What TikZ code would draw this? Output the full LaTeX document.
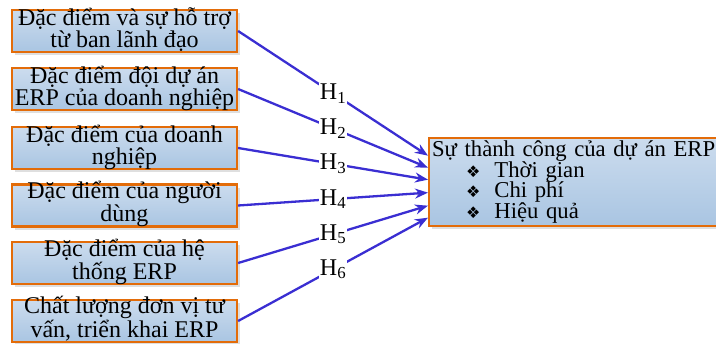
\documentclass[tikz,border=0pt]{standalone}
\usepackage{fontspec}
\setmainfont{Liberation Serif}
\newfontfamily\dejavu{DejaVu Sans}
\usetikzlibrary{arrows.meta,shadows,calc}
\definecolor{boxorange}{HTML}{E36C09}
\definecolor{boxtop}{HTML}{CCDCEE}
\definecolor{boxbot}{HTML}{A9C5E2}
\definecolor{arrowblue}{HTML}{3A2ED2}
\newcommand{\tightlines}{\lineskiplimit=-30bp\relax\lineskip=0bp\relax}
\tikzset{
  factor/.style={draw=boxorange, line width=2.2bp, top color=boxtop, bottom color=boxbot,
    minimum width=225bp, minimum height=42bp, inner xsep=0bp, inner ysep=0bp,
    text height=36bp, text depth=4bp, align=center,
    font=\fontsize{24bp}{20bp}\selectfont,
    drop shadow={opacity=0.25, shadow xshift=3bp, shadow yshift=-3bp}},
  result/.style={draw=boxorange, line width=2.2bp, top color=boxtop, bottom color=boxbot,
    minimum width=292bp, minimum height=85bp, inner sep=3bp, text width=300bp, align=left,
    font={\fontsize{22.7bp}{20.5bp}\selectfont\tightlines}, anchor=north west,
    drop shadow={opacity=0.25, shadow xshift=3bp, shadow yshift=-3bp}},
  hyp/.style={draw=arrowblue, line width=2.3bp, -{Stealth[length=13bp,width=10bp]}},
  hlabel/.style={fill=white, inner sep=1bp, font=\fontsize{24bp}{24bp}\selectfont},
}
\newcommand{\bul}{{\dejavu\fontsize{16bp}{16bp}\selectfont ❖}}
\begin{document}
\begin{tikzpicture}[x=1bp,y=-1bp]
\useasboundingbox (0,0) rectangle (716,343);
\node[factor] (f1) at (124.5,31) {Đặc điểm và sự hỗ trợ\\từ ban lãnh đạo};
\node[factor] (f2) at (124.5,89) {Đặc điểm đội dự án\\ERP của doanh nghiệp};
\node[factor] (f3) at (124.5,148) {Đặc điểm của doanh\\nghiệp};
\node[factor] (f4) at (124.5,205.5) {Đặc điểm của người\\dùng};
\node[factor] (f5) at (124.5,263) {Đặc điểm của hệ\\thống ERP};
\node[factor] (f6) at (124.5,321) {Chất lượng đơn vị tư\\vấn, triển khai ERP};
\node[result] (out) at (428,137) {Sự thành công của dự án ERP\\
\hspace*{34bp}\bul\hspace{14bp}Thời gian\\
\hspace*{34bp}\bul\hspace{14bp}Chi phí\\
\hspace*{34bp}\bul\hspace{14bp}Hiệu quả};
\draw[hyp] (f1.east) -- node[hlabel]{H\textsubscript{1}} ([yshift=26.5bp]out.west);
\draw[hyp] (f2.east) -- node[hlabel]{H\textsubscript{2}} ([yshift=14.5bp]out.west);
\draw[hyp] (f3.east) -- node[hlabel]{H\textsubscript{3}} ([yshift=2.5bp]out.west);
\draw[hyp] (f4.east) -- node[hlabel]{H\textsubscript{4}} ([yshift=-10.5bp]out.west);
\draw[hyp] (f5.east) -- node[hlabel]{H\textsubscript{5}} ([yshift=-23.5bp]out.west);
\draw[hyp] (f6.east) -- node[hlabel]{H\textsubscript{6}} ([yshift=-35.5bp]out.west);
\end{tikzpicture}
\end{document}
